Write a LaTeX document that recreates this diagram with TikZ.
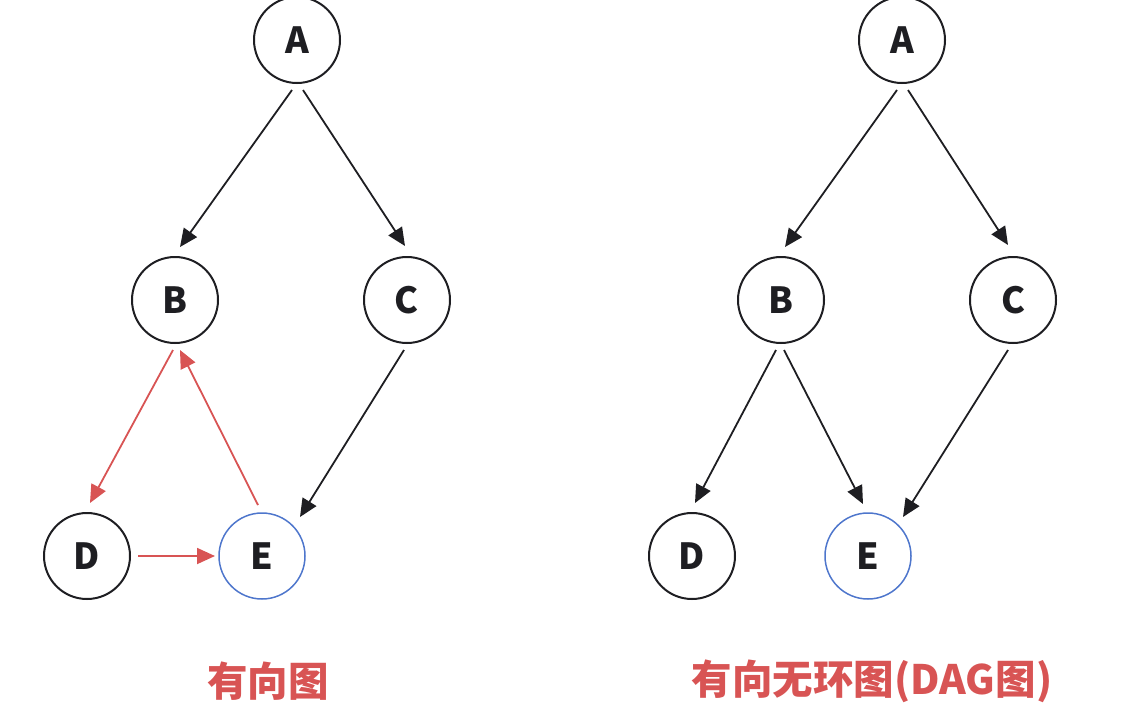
\documentclass[tikz,border=0pt]{standalone}
\usepackage{fontspec}
\newfontfamily\cjk{Noto Sans CJK SC}
\usetikzlibrary{arrows.meta,calc}
\definecolor{myred}{RGB}{216,84,84}
\definecolor{myblue}{RGB}{78,118,204}
\definecolor{ink}{RGB}{30,30,34}
\tikzset{
  vtx/.style={circle,draw=ink,line width=2pt,minimum size=86pt,inner sep=0pt,
    font=\cjk\bfseries\fontsize{36}{36}\selectfont,text=ink},
  blue vtx/.style={vtx,draw=myblue,line width=1.5pt},
  arr/.style={draw=ink,line width=1.8pt,-{Triangle[length=18pt,width=16pt]}},
  redarr/.style={arr,draw=myred,fill=myred},
  caption/.style={font=\cjk\bfseries\fontsize{40.5}{40.5}\selectfont,text=myred}
}
\begin{document}
\begin{tikzpicture}[x=1pt,y=-1pt]
\useasboundingbox (0,0) rectangle (1121,715);
% left graph
\node[vtx] (A1) at (297,40) {A};
\node[vtx] (B1) at (175,300) {B};
\node[vtx] (C1) at (407,300) {C};
\node[vtx] (D1) at (87,556) {D};
\node[blue vtx] (E1) at (262,556) {E};
\draw[arr] ($(A1)+(-5,50)$) -- ($(B1)+(5,-53)$);
\draw[arr] ($(A1)+(6,50)$) -- ($(C1)+(-2,-54)$);
\draw[arr] ($(C1)+(-3,50)$) -- ($(E1)+(38,-39)$);
\draw[redarr] ($(B1)+(-2,50)$) -- ($(D1)+(3,-53)$);
\draw[redarr] ($(E1)+(-4,-51)$) -- ($(B1)+(5,50)$);
\draw[redarr] ($(D1)+(51,0)$) -- ($(E1)+(-47,0)$);
\node[caption] (L1) at (268,681) {有向图};
% right graph
\node[vtx] (A2) at (902,40) {A};
\node[vtx] (B2) at (781,300) {B};
\node[vtx] (C2) at (1013,300) {C};
\node[vtx] (D2) at (692,556) {D};
\node[blue vtx] (E2) at (868,556) {E};
\draw[arr] ($(A2)+(-5,50)$) -- ($(B2)+(4,-53)$);
\draw[arr] ($(A2)+(6,50)$) -- ($(C2)+(-5,-55)$);
\draw[arr] ($(B2)+(-5,50)$) -- ($(D2)+(3,-53)$);
\draw[arr] ($(B2)+(3,50)$) -- ($(E2)+(-5,-52)$);
\draw[arr] ($(C2)+(-5,50)$) -- ($(E2)+(35,-39)$);
\node[caption] (L2) at (872,681) {有向无环图(DAG图)};
\end{tikzpicture}
\end{document}
